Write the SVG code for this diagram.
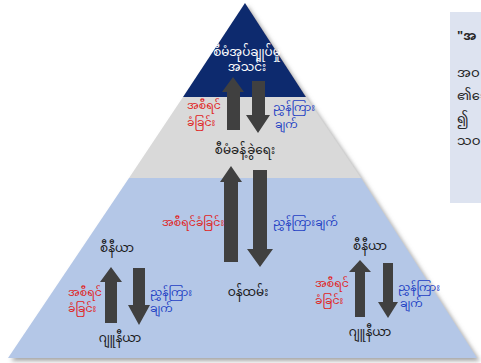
<svg xmlns="http://www.w3.org/2000/svg" width="481" height="363" viewBox="0 0 481 363">
<defs>
<filter id="sh" x="-10%" y="-10%" width="130%" height="130%">
<feDropShadow dx="3" dy="3" stdDeviation="2" flood-color="#808080" flood-opacity="0.7"/>
</filter>
<style>
text{font-family:"Noto Sans Myanmar","Padauk","Myanmar Text","Noto Sans",sans-serif;font-size:11px;}
.w{fill:#ffffff;text-anchor:middle;font-size:12px;}
.k{fill:#1a1a1a;text-anchor:middle;font-size:12px;}
.r{fill:#e02424;}
.b{fill:#1f3fc4;}
.a{fill:#404040;}
.n{font-size:13px;fill:#262626;}
</style>
</defs>
<rect width="481" height="363" fill="#ffffff"/>
<g id="note">
<rect x="450" y="12" width="40" height="191" fill="#dde3f0"/>
<text x="457" y="40" class="n b" style="font-weight:bold">"အ</text>
<text x="457" y="77" class="n">အဝ</text>
<text x="457" y="100" class="n">၏ေ</text>
<text x="457" y="123" class="n">၍</text>
<text x="457" y="145" class="n">သဝ</text>
</g>
<g id="pyramid" filter="url(#sh)">
<polygon id="level-bottom" points="129,178 361,178 477,358 8,358" fill="#b4c7e7"/>
<polygon id="level-middle" points="183,97 306,97 361,178 129,178" fill="#d9d9d9"/>
<polygon id="level-top" points="245,3 306,97 183,97" fill="#0f2b6e"/>
</g>
<g id="connectors" class="a">
<polygon points="233,77 244,92 240,92 240,130 227,130 227,92 222,92"/>
<polygon points="252,81 265,81 265,115 270,115 258,133 246,115 252,115"/>
<polygon points="231,166 242,182 238,182 238,262 224,262 224,182 220,182"/>
<polygon points="253,170 267,170 267,249 273,249 260,267 247,249 253,249"/>
<polygon points="111,267 122,282 117,282 117,323 105,323 105,282 100,282"/>
<polygon points="133,268 145,268 145,305 150,305 139,325 128,305 133,305"/>
<polygon points="360,260 371,272 365,272 365,317 355,317 355,272 349,272"/>
<polygon points="383,263 393,263 393,302 398,302 388,318 378,302 383,302"/>
</g>
<g id="node-top">
<text x="247" y="56" class="w">စီမံအုပ်ချုပ်မှု</text>
<text x="247" y="71" class="w">အသင်း</text>
</g>
<g id="node-middle">
<text x="245" y="154" class="k">စီမံခန့်ခွဲရေး</text>
</g>
<g id="node-staff">
<text x="248" y="296" class="k">ဝန်ထမ်း</text>
</g>
<g id="node-left-senior"><text x="117" y="252" class="k">စီနီယာ</text></g>
<g id="node-left-junior"><text x="120" y="342" class="k">ဂျူနီယာ</text></g>
<g id="node-right-senior"><text x="370" y="250" class="k">စီနီယာ</text></g>
<g id="node-right-junior"><text x="370" y="336" class="k">ဂျူနီယာ</text></g>
<g id="labels">
<text x="187" y="109" class="r">အစီရင်</text>
<text x="187" y="126" class="r">ခံခြင်း</text>
<text x="273" y="111" class="b">ညွှန်ကြား</text>
<text x="275" y="128" class="b">ချက်</text>
<text x="162" y="226" class="r">အစီရင်ခံခြင်း</text>
<text x="273" y="226" class="b">ညွှန်ကြားချက်</text>
<text x="68" y="296" class="r">အစီရင်</text>
<text x="68" y="312" class="r">ခံခြင်း</text>
<text x="150" y="296" class="b">ညွှန်ကြား</text>
<text x="150" y="312" class="b">ချက်</text>
<text x="315" y="287" class="r">အစီရင်</text>
<text x="315" y="304" class="r">ခံခြင်း</text>
<text x="398" y="291" class="b">ညွှန်ကြား</text>
<text x="400" y="307" class="b">ချက်</text>
</g>
</svg>
